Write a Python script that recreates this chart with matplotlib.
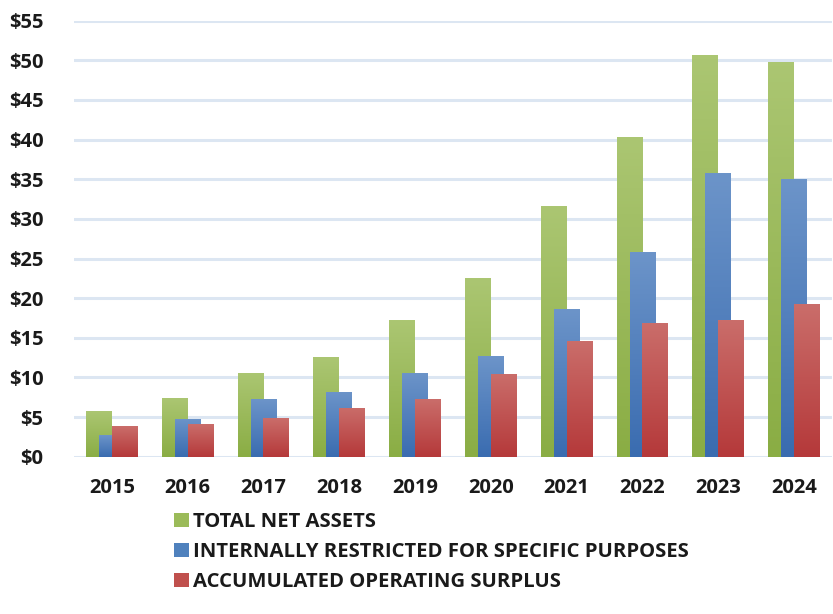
import numpy as np
import matplotlib
matplotlib.use("Agg")
import matplotlib.pyplot as plt
from matplotlib.colors import LinearSegmentedColormap
from matplotlib.patches import Patch

years = ["2015", "2016", "2017", "2018", "2019", "2020", "2021", "2022", "2023", "2024"]
total_net_assets = [5.8, 7.4, 10.6, 12.6, 17.2, 22.5, 31.6, 40.3, 50.7, 49.8]
internally_restricted = [2.7, 4.8, 7.3, 8.2, 10.6, 12.7, 18.6, 25.8, 35.8, 35.0]
operating_surplus = [3.9, 4.1, 4.9, 6.2, 7.3, 10.4, 14.6, 16.9, 17.2, 19.2]
series_labels = ["TOTAL NET ASSETS", "INTERNALLY RESTRICTED FOR SPECIFIC PURPOSES",
                 "ACCUMULATED OPERATING SURPLUS"]
yticks = list(range(0, 56, 5))

grads = [("#8aad44", "#abc672"), ("#3a6cb0", "#6c94c9"), ("#b5393a", "#ca6d6a")]
mids = ["#9bbb59", "#4f81bd", "#c0504d"]

FAM = ['Open Sans', 'DejaVu Sans']
plt.rcParams['font.family'] = FAM
fig = plt.figure(figsize=(8.33, 6.14), dpi=100)
ax = fig.add_axes([74/833, 1-456.7/614, 758/833, (456.7-20.7)/614])

x = np.arange(len(years))
w = 0.343
off = 0.171
series = [total_net_assets, internally_restricted, operating_surplus]
for i, (vals, (c0, c1), m) in enumerate(zip(series, grads, mids)):
    bars = ax.bar(x + (i-1)*off, vals, width=w, color=m, zorder=2+i*2, linewidth=0)
    cmap = LinearSegmentedColormap.from_list("g%d" % i, [c0, c1])
    for b in bars:
        bx, by = b.get_x(), b.get_y()
        bw, bh = b.get_width(), b.get_height()
        grad = np.linspace(1, 0, 100).reshape(-1, 1)
        im = ax.imshow(grad, extent=[bx, bx+bw, by, by+bh], aspect='auto',
                       cmap=cmap, vmin=0, vmax=1, zorder=3+i*2)
        im.set_clip_path(b)

ax.set_xlim(-0.5, len(years)-0.5)
ax.set_ylim(0, 55)
ax.set_yticks(yticks)
ax.set_yticklabels(["$%d" % v for v in yticks], fontsize=14.5, fontweight='bold', color='#1a1a1a')
ax.set_xticks(x)
ax.set_xticklabels(years, fontsize=14.5, fontweight='bold', color='#1a1a1a')
ax.tick_params(axis='y', length=0, pad=22)
ax.tick_params(axis='x', length=0, pad=15)
ax.yaxis.grid(True, color='#dce6f2', linewidth=2.2, zorder=0)
ax.set_axisbelow(True)
for s in ax.spines.values():
    s.set_visible(False)

handles = [Patch(facecolor=m, edgecolor='none') for m in mids]
fig.legend(handles, series_labels, loc='upper left', bbox_to_anchor=(166/833, 1-504/614),
           frameon=False, prop={'family': FAM, 'weight': 'bold', 'size': 14.6},
           handlelength=0.74, handleheight=0.7, handletextpad=0.2, labelspacing=0.5,
           labelcolor='#1a1a1a', borderaxespad=0)

fig.savefig("out.png", dpi=100)
